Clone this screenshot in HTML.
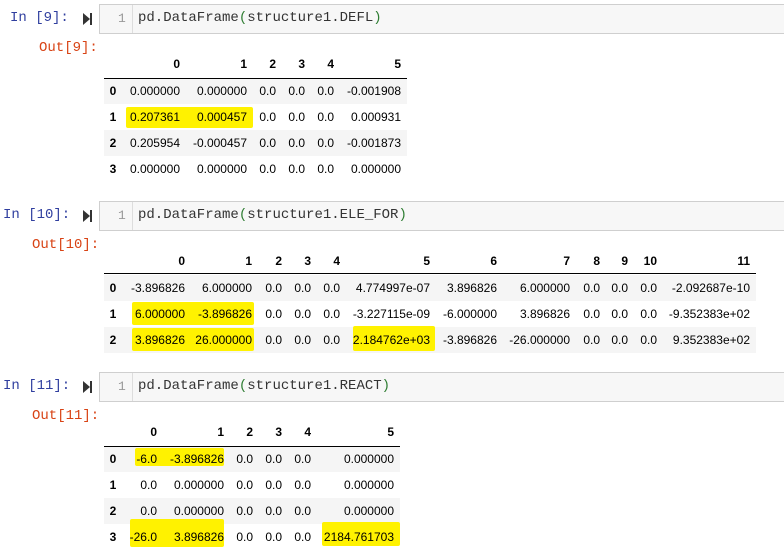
<!DOCTYPE html>
<html><head><meta charset="utf-8"><style>
body{margin:0;width:784px;height:556px;background:#fff;position:relative;overflow:hidden;font-family:"Liberation Sans",sans-serif}
.a{position:absolute;white-space:nowrap}
.in{font-family:"Liberation Mono",monospace;font-size:14px;color:#303f9f}
.out{font-family:"Liberation Mono",monospace;font-size:14px;color:#d84315}
.box{position:absolute;left:99px;right:-2px;height:28px;background:#f7f7f7;border:1px solid #cfcfcf}
.ln{position:absolute;left:118px;font-family:"Liberation Mono",monospace;font-size:13px;color:#999}
.sep{position:absolute;left:132px;width:1px;height:28px;background:#ddd}
.code{position:absolute;left:138px;font-family:"Liberation Mono",monospace;font-size:14px;color:#333}
.g{color:#2e7d32}
.run{position:absolute;width:0;height:0;border-top:6px solid transparent;border-bottom:6px solid transparent;border-left:7px solid #333}
.runb{position:absolute;width:2px;height:12px;background:#333}
.c{position:absolute;font-size:12px;color:#000;text-align:right;line-height:14px}
.h{font-weight:bold}
.stripe{position:absolute;background:#f5f5f5;height:26px}
.hl{position:absolute;background:#fff200;border-radius:2px}
.rule{position:absolute;height:1px;background:#000}
</style></head><body>
<div id="root"></div>
<script>
const t1Cols=["0","1","2","3","4","5"];
const t1Rows=[["0.000000","0.000000","0.0","0.0","0.0","-0.001908"],["0.207361","0.000457","0.0","0.0","0.0","0.000931"],["0.205954","-0.000457","0.0","0.0","0.0","-0.001873"],["0.000000","0.000000","0.0","0.0","0.0","0.000000"]];
const t2Cols=["0","1","2","3","4","5","6","7","8","9","10","11"];
const t2Rows=[["-3.896826","6.000000","0.0","0.0","0.0","4.774997e-07","3.896826","6.000000","0.0","0.0","0.0","-2.092687e-10"],["6.000000","-3.896826","0.0","0.0","0.0","-3.227115e-09","-6.000000","3.896826","0.0","0.0","0.0","-9.352383e+02"],["3.896826","26.000000","0.0","0.0","0.0","2.184762e+03","-3.896826","-26.000000","0.0","0.0","0.0","9.352383e+02"]];
const t3Cols=["0","1","2","3","4","5"];
const t3Rows=[["-6.0","-3.896826","0.0","0.0","0.0","0.000000"],["0.0","0.000000","0.0","0.0","0.0","0.000000"],["0.0","0.000000","0.0","0.0","0.0","0.000000"],["-26.0","3.896826","0.0","0.0","0.0","2184.761703"]];
const root=document.getElementById('root');
function add(cls,style,txt,html){const d=document.createElement('div');d.className=cls;d.setAttribute('style',style);if(html)d.innerHTML=html;else if(txt!=null)d.textContent=txt;root.appendChild(d);return d;}
function cell(y,prompt,num,code,outLabel,outX){
  const p=add('a in','left:'+(num>9?3:10)+'px;top:'+(y+6)+'px',prompt);
  
  
  const r=add('run','left:83px;top:'+(y+9)+'px');
  
  
  add('runb','left:90px;top:'+(y+9)+'px');
  const b=add('box','top:'+y+'px');
  
  
  add('ln','top:'+(y+7)+'px','1');
  add('sep','top:'+(y+1)+'px');
  const c=add('code','top:'+(y+6)+'px',null,'pd.DataFrame<span class="g">(</span>structure1.'+code+'<span class="g">)</span>');
  
  
  const o=add('a out','left:'+outX+'px;top:'+(y+36)+'px',outLabel);
  
  
}
function table(name,cols,rows,rights,x0,x1,headY,lineY,row0,hls){
  for(let i=0;i<rows.length;i+=2){add('stripe','left:'+x0+'px;width:'+(x1-x0)+'px;top:'+(row0+i*26-13)+'px');}
  hls.forEach(h=>add('hl','left:'+h[0]+'px;top:'+h[1]+'px;width:'+(h[2]-h[0])+'px;height:'+(h[3]-h[1])+'px'));
  const ru=add('rule','left:'+x0+'px;width:'+(x1-x0)+'px;top:'+lineY+'px');
  cols.forEach((cn,j)=>{const e=add('c h','left:'+(rights[j]-80)+'px;width:80px;top:'+(headY-7)+'px',cn);
    
    });
  rows.forEach((row,i)=>{const y=row0+i*26-7;
    const ix=add('c h','left:'+(108)+'px;width:10px;text-align:center;top:'+y+'px',String(i));
    
    
    row.forEach((v,j)=>{const e=add('c','left:'+(rights[j]-90)+'px;width:90px;top:'+y+'px',v);
      
      });});
}
cell(4,'In [9]:',9,'DEFL','Out[9]:',39);
table('defl-table',t1Cols,t1Rows,[180,247,276,305,334,401],104,407,64,78,91,[[126,107,253,128]]);
cell(201,'In [10]:',10,'ELE_FOR','Out[10]:',32);
table('ele-for-table',t2Cols,t2Rows,[185,252,282,311,340,430,497,570,600,628,657,750],104,756,261,273,288,[[132,302,254,325],[132,328,254,351],[353,326,435,351]]);
cell(372,'In [11]:',11,'REACT','Out[11]:',32);
table('react-table',t3Cols,t3Rows,[157,224,253,282,311,394],104,400,432,446,459,[[135,448,224,466],[130,519,224,547],[322,522,400,546]]);
</script>
</body></html>
